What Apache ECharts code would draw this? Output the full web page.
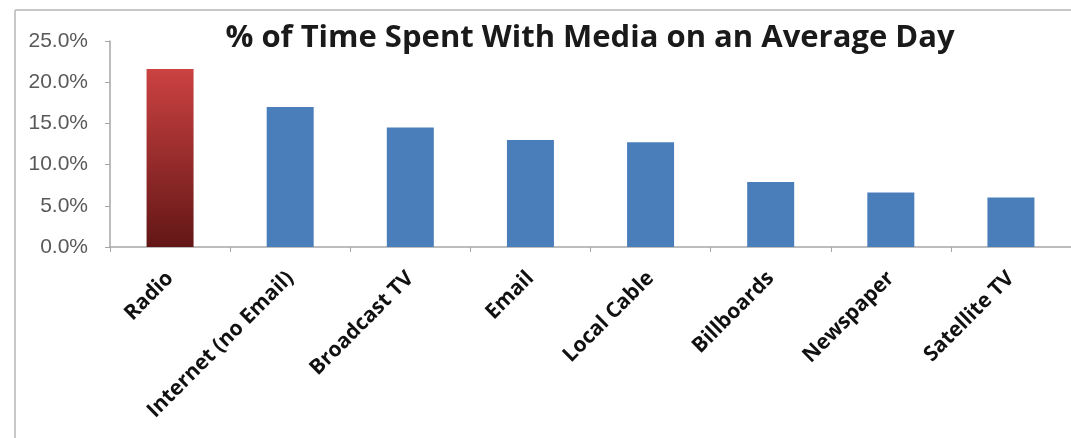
<!DOCTYPE html>
<html>
<head>
<meta charset="utf-8">
<script src="https://cdn.jsdelivr.net/npm/echarts@6/dist/echarts.min.js"></script>
<style>
  html, body { margin: 0; padding: 0; background: #fff; }
  #chart { width: 1071px; height: 438px; }
</style>
</head>
<body>
<div id="chart"></div>
<script>
const categories = ["Radio", "Internet (no Email)", "Broadcast TV", "Email", "Local Cable", "Billboards", "Newspaper", "Satellite TV"];
const shares = [21.6, 17.0, 14.5, 13.0, 12.7, 7.9, 6.6, 6.0];
const yTicks = [0, 5, 10, 15, 20, 25];

const chart = echarts.init(document.getElementById("chart"));

// radio is highlighted with a red fade, the rest are plain blue
const radioFill = new echarts.graphic.LinearGradient(0, 0, 0, 1, [
  { offset: 0, color: "#cc4242" },
  { offset: 1, color: "#631616" }
]);

const barData = shares.map((v, i) => ({
  value: v,
  itemStyle: { color: i === 0 ? radioFill : "#4a7ebb" }
}));

chart.setOption({
  animation: false,
  title: {
    text: "% of Time Spent With Media on an Average Day",
    left: 585,
    top: 18,
    textAlign: "center",
    textStyle: { fontFamily: "Open Sans", fontWeight: "bold", fontSize: 31, color: "#1a1a1a" }
  },
  grid: { left: 110, right: 0, top: 41, bottom: 191, containLabel: false },
  xAxis: {
    type: "category",
    data: categories,
    axisLine: { lineStyle: { color: "#a6a6a6", width: 1.5 } },
    axisTick: { show: true, length: 5, lineStyle: { color: "#a6a6a6" } },
    axisLabel: {
      rotate: 45,
      margin: 28,
      interval: 0,
      fontFamily: "Open Sans",
      fontWeight: "bold",
      fontSize: 21,
      color: "#111"
    }
  },
  yAxis: {
    type: "value",
    min: yTicks[0],
    max: yTicks[yTicks.length - 1],
    interval: 5,
    axisLine: { show: true, lineStyle: { color: "#a6a6a6", width: 1.5 } },
    axisTick: { show: true, length: 5, lineStyle: { color: "#a6a6a6" } },
    splitLine: { show: false },
    axisLabel: {
      margin: 22,
      fontFamily: "Liberation Sans",
      fontSize: 21,
      color: "#595959",
      formatter: v => v.toFixed(1) + "%"
    }
  },
  series: [{
    type: "bar",
    data: barData,
    barWidth: 47
  }],
  graphic: [
    { type: "line", shape: { x1: 15, y1: 10, x2: 1071, y2: 10 }, style: { stroke: "#c8c8c8", lineWidth: 2 } },
    { type: "line", shape: { x1: 15, y1: 10, x2: 15, y2: 438 }, style: { stroke: "#c8c8c8", lineWidth: 2 } }
  ]
});
</script>
</body>
</html>
